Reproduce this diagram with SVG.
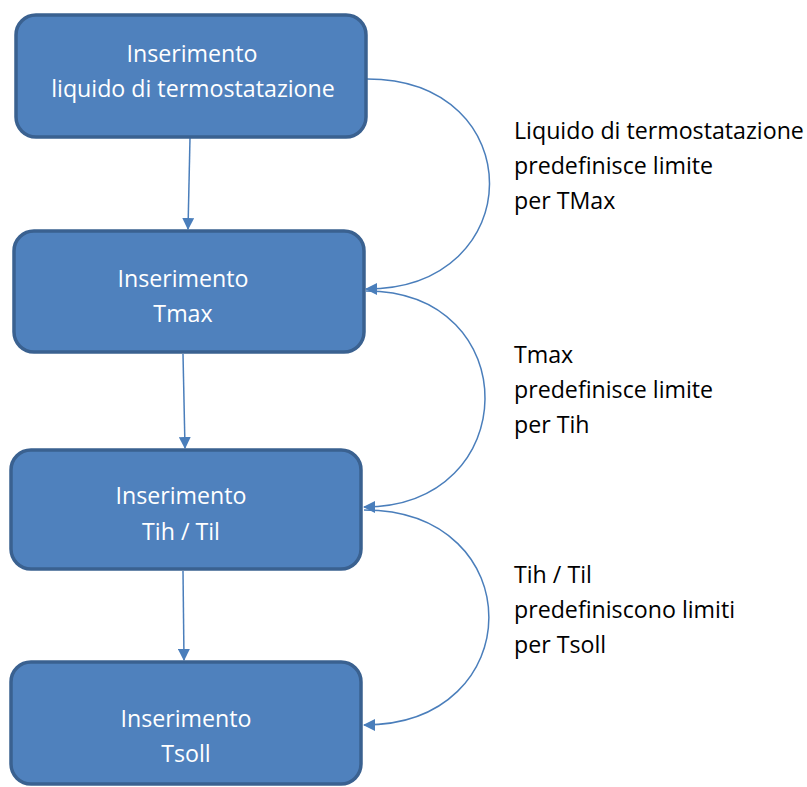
<svg xmlns="http://www.w3.org/2000/svg" width="807" height="787" viewBox="0 0 807 787">
<style>
.box{fill:#4F81BD;stroke:#3A6190;stroke-width:3.5}
.bt{fill:#FFFFFF;font-family:"Open Sans","Noto Sans",sans-serif;font-size:23.2px;text-anchor:middle}
.lt{fill:#000000;font-family:"Open Sans","Noto Sans",sans-serif;font-size:23.2px;font-weight:500}
.con{fill:none;stroke:#4A7EBB;stroke-width:1.5}
</style>
<defs>
<marker id="ah" markerWidth="12" markerHeight="12" viewBox="0 0 12 12" refX="11" refY="6" orient="auto" markerUnits="userSpaceOnUse">
<path d="M0,0 L12,6 L0,12 Z" fill="#4A7EBB"/>
</marker>
</defs>
<g id="connectors">
<path class="con" d="M190,138 L188,229" marker-end="url(#ah)"/>
<path class="con" d="M183,354 L185,448" marker-end="url(#ah)"/>
<path class="con" d="M183,571 L184,660" marker-end="url(#ah)"/>
<path class="con" d="M367,79 C531,79 530,289 366,289" marker-end="url(#ah)"/>
<path class="con" d="M366,291 C526,291 524,507 364,507" marker-end="url(#ah)"/>
<path class="con" d="M364,510 C531,510 530,725 364,725" marker-end="url(#ah)"/>
</g>
<g id="node1">
<rect class="box" x="16" y="15" width="350" height="122" rx="20"/>
<text class="bt" x="192" y="62">Inserimento</text>
<text class="bt" x="193" y="97">liquido di termostatazione</text>
</g>
<g id="node2">
<rect class="box" x="14" y="231" width="350" height="121" rx="20"/>
<text class="bt" x="183" y="287">Inserimento</text>
<text class="bt" x="183" y="322">Tmax</text>
</g>
<g id="node3">
<rect class="box" x="11" y="450" width="350" height="119" rx="20"/>
<text class="bt" x="181" y="504">Inserimento</text>
<text class="bt" x="181" y="540">Tih / Til</text>
</g>
<g id="node4">
<rect class="box" x="11" y="662" width="350" height="122" rx="20"/>
<text class="bt" x="186" y="727">Inserimento</text>
<text class="bt" x="186" y="762">Tsoll</text>
</g>
<g id="label1">
<text class="lt" x="514" y="139">Liquido di termostatazione</text>
<text class="lt" x="514" y="174">predefinisce limite</text>
<text class="lt" x="514" y="209">per TMax</text>
</g>
<g id="label2">
<text class="lt" x="514" y="363">Tmax</text>
<text class="lt" x="514" y="398">predefinisce limite</text>
<text class="lt" x="514" y="433">per Tih</text>
</g>
<g id="label3">
<text class="lt" x="514" y="583">Tih / Til</text>
<text class="lt" x="514" y="618">predefiniscono limiti</text>
<text class="lt" x="514" y="653">per Tsoll</text>
</g>
</svg>
